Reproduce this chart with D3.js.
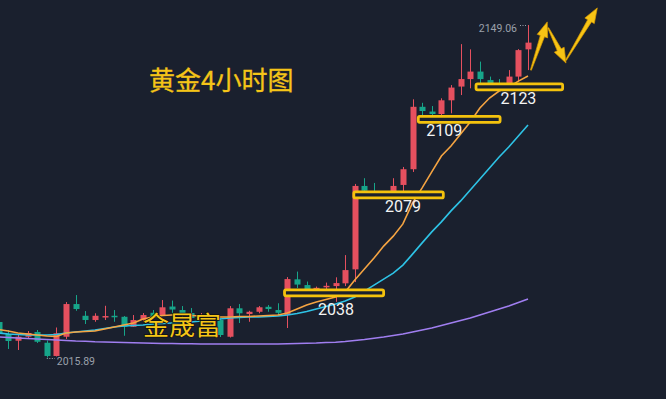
<!DOCTYPE html>
<html>
<head>
<meta charset="utf-8">
<script src="https://cdn.jsdelivr.net/npm/d3@7"></script>
<style>
  html, body { margin: 0; padding: 0; background: #1a202e; }
  svg { display: block; }
</style>
</head>
<body>
<svg width="666" height="399"></svg>
<script>
// 4h candles, oldest first
const opens  = [2030.1,2025.3,2022.6,2024.2,2026.1,2021.8,2016.5,2024.2,2037.3,2032.6,2030.9,2032.2,2032.6,2032.2,2028.2,2030.9,2033.8,2032.9,2036.3,2034.9,2033.7,2030.2,2031.7,2030.9,2024.2,2035.6,2033.3,2034.2,2036.2,2034.9,2032.9,2047.2,2044.9,2042.9,2044.0,2044.5,2045.6,2051.2,2084.6,2081.8,2080.6,2081.0,2085.0,2091.3,2116.3,2114.4,2113.4,2118.9,2124.4,2127.4,2130.4,2127.0,2125.6,2125.4,2128.4,2139.3];
const closes = [2025.7,2022.5,2024.2,2025.7,2022.2,2016.5,2025.6,2037.3,2035.3,2030.9,2032.6,2032.5,2032.4,2028.2,2030.9,2032.9,2032.2,2036.0,2035.1,2032.9,2031.7,2032.9,2030.1,2024.9,2035.6,2033.6,2034.2,2036.0,2035.3,2033.8,2047.3,2045.1,2043.2,2043.8,2044.6,2045.7,2050.9,2084.6,2082.7,2080.6,2081.2,2084.6,2091.3,2116.3,2114.6,2113.4,2118.9,2124.0,2127.4,2130.4,2127.4,2125.7,2125.2,2128.4,2139.0,2142.0];
const highs  = [2030.9,2026.9,2024.9,2026.5,2026.9,2022.7,2027.9,2038.1,2040.9,2034.5,2033.6,2036.6,2034.9,2032.5,2032.9,2033.7,2034.9,2038.9,2038.7,2036.5,2035.7,2033.7,2032.9,2031.7,2036.5,2037.3,2034.6,2036.5,2036.9,2037.6,2048.1,2050.3,2046.3,2044.3,2045.9,2048.0,2056.9,2085.4,2087.7,2085.8,2082.2,2087.7,2092.2,2119.3,2117.9,2116.6,2119.7,2125.0,2141.4,2139.3,2134.4,2128.4,2127.4,2131.0,2139.4,2149.06];
const lows   = [2024.5,2019.3,2018.9,2023.7,2021.7,2015.89,2016.3,2023.3,2034.6,2029.3,2030.2,2030.9,2030.2,2024.6,2028.1,2030.1,2031.7,2032.5,2032.9,2031.7,2030.5,2029.7,2028.9,2024.1,2023.9,2029.7,2030.2,2033.6,2034.2,2033.3,2027.7,2043.7,2042.1,2042.1,2042.5,2038.2,2044.5,2046.1,2081.8,2079.4,2080.2,2080.2,2081.0,2090.2,2113.0,2111.4,2112.6,2113.7,2121.0,2123.7,2125.4,2124.6,2124.2,2123.8,2126.2,2131.0];

// moving averages
const maFast = [2027.1,2026.5,2025.7,2025.3,2024.9,2024.5,2024.3,2025.7,2026.1,2026.3,2026.5,2027.3,2028.1,2028.9,2029.7,2031.3,2032.1,2032.7,2032.9,2032.9,2032.7,2032.5,2032.3,2032.1,2032.1,2032.3,2032.3,2032.5,2032.7,2032.9,2033.7,2035.3,2036.9,2038.1,2039.1,2040.1,2042.1,2046.9,2051.3,2055.7,2060.5,2064.5,2069.4,2077.8,2083.8,2090.2,2096.6,2100.6,2105.4,2110.2,2115.8,2119.8,2122.6,2124.2,2126.6,2128.6];
const maMid  = [2025.7,2025.3,2025.1,2024.9,2024.9,2024.9,2025.1,2025.7,2026.1,2026.5,2026.9,2027.5,2028.1,2028.5,2028.7,2028.9,2029.3,2029.5,2029.7,2029.9,2030.1,2030.5,2030.9,2031.3,2031.7,2031.9,2032.1,2032.1,2032.3,2032.5,2032.9,2033.5,2034.3,2035.3,2036.3,2037.3,2038.5,2040.1,2042.5,2044.9,2047.3,2049.7,2052.9,2057.3,2061.8,2066.2,2070.2,2074.6,2078.6,2083.0,2087.4,2091.8,2096.2,2100.2,2104.6,2109.0];
const maSlow = [2024.1,2023.9,2023.7,2023.5,2023.3,2023.1,2022.9,2022.7,2022.5,2022.4,2022.2,2022.1,2022.0,2021.9,2021.8,2021.7,2021.6,2021.5,2021.5,2021.4,2021.4,2021.3,2021.3,2021.3,2021.3,2021.3,2021.3,2021.3,2021.3,2021.3,2021.4,2021.5,2021.6,2021.7,2021.9,2022.0,2022.3,2022.7,2023.1,2023.6,2024.1,2024.7,2025.3,2026.1,2026.9,2027.7,2028.7,2029.7,2030.7,2031.7,2032.9,2034.1,2035.3,2036.5,2037.9,2039.3];

// support levels drawn as boxes (price, from candle, to candle)
const levelNames  = ["2038", "2079", "2109", "2123"];
const levelPrices = [2041.8, 2081.0, 2111.3, 2124.3];
const levelFrom   = [29.7, 36.9, 43.6, 49.6];
const levelTo     = [40.0, 46.2, 52.1, 58.6];
const labelAt     = [35.05, 42.0, 46.3, 54.0];
const labelPrice  = [2032.9, 2074.0, 2104.6, 2117.6];

// forecast zigzag: [fromIdx, fromPrice, toIdx, toPrice]
const arrows = [
  [55.3, 2131.0, 57.0, 2150.3],
  [57.1, 2147.9, 58.95, 2133.8],
  [58.95, 2135.0, 62.2, 2155.9]
];

const title = "黄金4小时图";
const brand = "金晟富";

const svg = d3.select("svg"),
      width = +svg.attr("width"),
      height = +svg.attr("height");

const candles = opens.map((o, i) => ({ i: i, o: o, c: closes[i], h: highs[i], l: lows[i] }));

const x = d3.scaleLinear().domain([0, candles.length - 1]).range([-1.3, 528]);
const y = d3.scaleLinear().domain([2015.89, 2149.06]).range([357.5, 25]);

const up = "#e5505f", down = "#17a58a";

svg.append("rect").attr("width", width).attr("height", height).attr("fill", "#1a202e");

const g = svg.append("g");

// wicks
g.selectAll(".wick")
  .data(candles)
  .enter().append("line")
  .attr("x1", d => Math.round(x(d.i)) + 0.5)
  .attr("x2", d => Math.round(x(d.i)) + 0.5)
  .attr("y1", d => y(d.h))
  .attr("y2", d => y(d.l))
  .attr("stroke", d => d.c >= d.o ? up : down)
  .attr("stroke-width", 1);

// bodies
g.selectAll(".body")
  .data(candles)
  .enter().append("rect")
  .attr("x", d => Math.round(x(d.i)) - 2.5)
  .attr("width", 6)
  .attr("y", d => y(Math.max(d.o, d.c)))
  .attr("height", d => Math.max(1.5, Math.abs(y(d.o) - y(d.c))))
  .attr("fill", d => d.c >= d.o ? up : down);

// moving averages
const line = d3.line().x((d, i) => x(i)).y(d => y(d));
[[maSlow, "#a07ef0"], [maMid, "#2ec3e6"], [maFast, "#f5a442"]].forEach(([vals, col]) => {
  g.append("path")
    .datum(vals)
    .attr("d", line)
    .attr("fill", "none")
    .attr("stroke", col)
    .attr("stroke-width", 1.6);
});

// high / low markers
const hiIdx = d3.maxIndex(highs), loIdx = d3.minIndex(lows);
const grey = "#9aa0ab";
g.append("line")
  .attr("x1", x(hiIdx) - 2).attr("x2", x(hiIdx) - 9)
  .attr("y1", y(highs[hiIdx]) + 0.5).attr("y2", y(highs[hiIdx]) + 0.5)
  .attr("stroke", grey).attr("stroke-dasharray", "1,1.5");
g.append("text")
  .attr("x", x(hiIdx) - 11).attr("y", y(highs[hiIdx]) + 7)
  .attr("text-anchor", "end")
  .attr("font-family", "Roboto, 'Noto Sans', sans-serif")
  .attr("font-size", 10.5)
  .attr("fill", grey)
  .text(highs[hiIdx].toFixed(2));
g.append("line")
  .attr("x1", x(loIdx) + 0).attr("x2", x(loIdx) + 8)
  .attr("y1", y(lows[loIdx]) + 1).attr("y2", y(lows[loIdx]) + 1)
  .attr("stroke", grey).attr("stroke-dasharray", "1,1.5");
g.append("text")
  .attr("x", x(loIdx) + 10).attr("y", y(lows[loIdx]) + 7)
  .attr("font-family", "Roboto, 'Noto Sans', sans-serif")
  .attr("font-size", 10.5)
  .attr("fill", grey)
  .text(lows[loIdx].toFixed(2));

// level boxes + labels
const gold = "#f4c20d";
levelNames.forEach((name, k) => {
  g.append("rect")
    .attr("x", x(levelFrom[k]))
    .attr("width", x(levelTo[k]) - x(levelFrom[k]))
    .attr("y", y(levelPrices[k]) - 3)
    .attr("height", 6)
    .attr("rx", 1.5)
    .attr("fill", "#1a202e")
    .attr("stroke", gold)
    .attr("stroke-width", 2.8);
  g.append("text")
    .attr("x", x(labelAt[k]))
    .attr("y", y(labelPrice[k]))
    .attr("text-anchor", "middle")
    .attr("font-family", "Roboto, 'Noto Sans', sans-serif")
    .attr("font-size", 16)
    .attr("fill", "#f4f4f4")
    .text(name);
});

// zigzag arrows
function arrowPoints(a) {
  const x0 = x(a[0]), y0 = y(a[1]), x1 = x(a[2]), y1 = y(a[3]);
  const len = Math.hypot(x1 - x0, y1 - y0);
  const ux = (x1 - x0) / len, uy = (y1 - y0) / len;
  const nx = -uy, ny = ux;
  const headLen = 15, headW = 5.5, w0 = 0.5, w1 = 2.2;
  const bx = x1 - ux * headLen, by = y1 - uy * headLen;
  return [
    [x0 + nx * w0, y0 + ny * w0],
    [bx + nx * w1, by + ny * w1],
    [bx + nx * headW, by + ny * headW],
    [x1, y1],
    [bx - nx * headW, by - ny * headW],
    [bx - nx * w1, by - ny * w1],
    [x0 - nx * w0, y0 - ny * w0]
  ].map(p => p.join(",")).join(" ");
}
g.selectAll(".arrow")
  .data(arrows)
  .enter().append("polygon")
  .attr("points", arrowPoints)
  .attr("fill", "#f7c415")
  .attr("stroke", "#d89a00")
  .attr("stroke-width", 0.7)
  .attr("stroke-linejoin", "round");

// title and brand
svg.append("text")
  .attr("x", 149).attr("y", 90)
  .attr("font-family", "'Noto Sans CJK SC', sans-serif")
  .attr("font-size", 26)
  .attr("fill", "#f5c518")
  .attr("stroke", "#f5c518")
  .attr("stroke-width", 0.3)
  .text(title);

svg.append("text")
  .attr("x", 143).attr("y", 335)
  .attr("font-family", "'Noto Sans CJK SC', sans-serif")
  .attr("font-size", 26)
  .attr("fill", "#f5c518")
  .attr("stroke", "#111")
  .attr("stroke-width", 1.5)
  .attr("paint-order", "stroke")
  .text(brand);
</script>
</body>
</html>
